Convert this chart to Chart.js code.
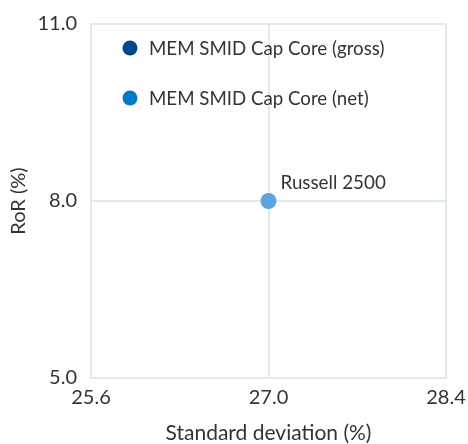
<!DOCTYPE html>
<html>
<head>
<meta charset="utf-8">
<script src="https://cdn.jsdelivr.net/npm/chart.js@4"></script>
<style>
  html, body { margin: 0; padding: 0; background: #ffffff; }
  #wrap { width: 468px; height: 444px; position: relative; }
</style>
</head>
<body>
<div id="wrap"><canvas id="c" width="468" height="444"></canvas></div>
<script>
// ---- data ----
const seriesNames = ["MEM SMID Cap Core (gross)", "MEM SMID Cap Core (net)", "Russell 2500"];
const seriesColors = ["#004590", "#0078c8", "#5aa5dc"];
const grossPoints = [];            // not visible within the plotted range
const netPoints = [];              // not visible within the plotted range
const russellX = [27.0];
const russellY = [8.0];
const xTicks = [25.6, 27.0, 28.4];
const yTicks = [5.0, 8.0, 11.0];
const xTitle = "Standard deviation (%)";
const yTitle = "RoR (%)";

const FONT = "Lato, 'Open Sans', sans-serif";
const TEXT = "#333333";
const GRID = "#e1ebef";

const russellPoints = russellX.map((x, i) => ({ x: x, y: russellY[i] }));

const legendPlugin = {
  id: 'innerLegend',
  afterDraw(chart) {
    const ctx = chart.ctx;
    const a = chart.chartArea;
    const items = chart.data.datasets.filter(d => d.showInLegend);
    ctx.save();
    ctx.font = "18.7px " + FONT;
    ctx.textBaseline = "middle";
    ctx.textAlign = "left";
    items.forEach((d, i) => {
      const cx = a.left + 39;
      const cy = a.top + 24 + i * 50;
      ctx.beginPath();
      ctx.arc(cx, cy, 7.5, 0, Math.PI * 2);
      ctx.fillStyle = d.backgroundColor;
      ctx.fill();
      ctx.fillStyle = TEXT;
      ctx.fillText(d.label, cx + 19, cy + 1);
    });
    ctx.restore();
  }
};

const pointLabelPlugin = {
  id: 'pointLabels',
  afterDatasetsDraw(chart) {
    const ctx = chart.ctx;
    chart.data.datasets.forEach((d, di) => {
      if (!d.pointLabel) return;
      const meta = chart.getDatasetMeta(di);
      meta.data.forEach(el => {
        ctx.save();
        ctx.font = "18.8px " + FONT;
        ctx.fillStyle = TEXT;
        ctx.textBaseline = "middle";
        ctx.textAlign = "left";
        ctx.fillText(d.label, el.x + 12, el.y - 18);
        ctx.restore();
      });
    });
  }
};

new Chart(document.getElementById('c'), {
  type: 'scatter',
  data: {
    datasets: [
      { label: seriesNames[0], data: grossPoints, backgroundColor: seriesColors[0], borderColor: seriesColors[0], pointRadius: 8, showInLegend: true },
      { label: seriesNames[1], data: netPoints, backgroundColor: seriesColors[1], borderColor: seriesColors[1], pointRadius: 8, showInLegend: true },
      { label: seriesNames[2], data: russellPoints, backgroundColor: seriesColors[2], borderColor: seriesColors[2], borderWidth: 0, pointRadius: 8, pointHoverRadius: 8, pointLabel: true }
    ]
  },
  options: {
    responsive: false,
    animation: false,
    devicePixelRatio: 1,
    layout: { padding: { left: 0, right: 22, top: 24, bottom: 0 } },
    plugins: {
      legend: { display: false },
      tooltip: { enabled: false }
    },
    scales: {
      x: {
        type: 'linear',
        min: xTicks[0],
        max: xTicks[xTicks.length - 1],
        afterBuildTicks: s => { s.ticks = xTicks.map(v => ({ value: v })); },
        afterFit: s => { s.height = 66; s.paddingLeft = 0; s.paddingRight = 0; },
        ticks: {
          callback: v => Number(v).toFixed(1),
          color: TEXT,
          font: { family: FONT, size: 20 },
          padding: 8,
          maxRotation: 0
        },
        grid: { color: GRID, lineWidth: 2, drawTicks: false },
        border: { display: true, color: GRID, width: 2 },
        title: { display: true, text: xTitle, color: TEXT, font: { family: FONT, size: 21 }, padding: { top: 0, bottom: -2 } }
      },
      y: {
        type: 'linear',
        min: yTicks[0],
        max: yTicks[yTicks.length - 1],
        afterBuildTicks: s => { s.ticks = yTicks.map(v => ({ value: v })); },
        afterFit: s => { s.width = 91; s.paddingTop = 0; s.paddingBottom = 0; },
        ticks: {
          callback: v => Number(v).toFixed(1),
          color: TEXT,
          font: { family: FONT, size: 20 },
          padding: 14
        },
        grid: { color: GRID, lineWidth: 2, drawTicks: false },
        border: { display: true, color: GRID, width: 2 },
        title: { display: true, text: yTitle, color: TEXT, font: { family: FONT, size: 20 }, padding: { top: 7, bottom: 0 } }
      }
    }
  },
  plugins: [legendPlugin, pointLabelPlugin]
});
</script>
</body>
</html>
